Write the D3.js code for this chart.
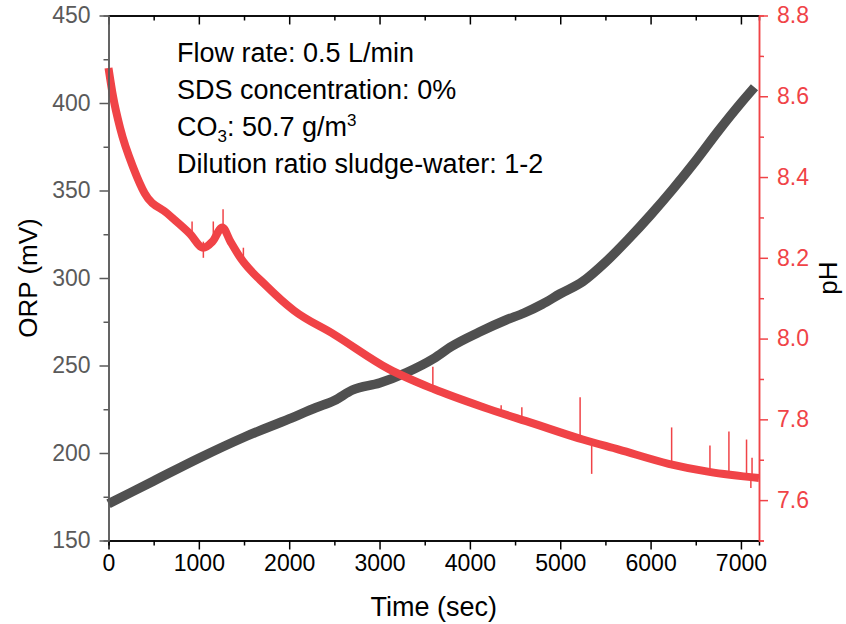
<!DOCTYPE html>
<html>
<head>
<meta charset="utf-8">
<script src="https://cdn.jsdelivr.net/npm/d3@7"></script>
<style>
  body { margin: 0; background: #fff; }
  svg { display: block; font-family: "Liberation Sans", Arial, sans-serif; }
</style>
</head>
<body>
<div class="chart"></div>
<script>
// ORP readings (mV) over time (sec)
const ORP_TIME = [0, 500, 1000, 1500, 2000, 2300, 2500, 2700, 3000, 3300, 3600, 3800, 4100, 4400, 4600, 4800, 5000, 5250, 5500, 5750, 6000, 6250, 6500, 6750, 7000, 7150];
const ORP_VALUE = [171, 184, 197, 209, 219.5, 226, 230, 236, 240, 246, 254, 261, 269, 276, 280, 285, 291, 298, 309, 322, 336, 351, 367, 384, 400, 409];

// pH readings over time (sec)
const PH_TIME = [0, 50, 130, 280, 400, 650, 900, 1050, 1150, 1260, 1350, 1460, 1750, 2050, 2500, 3100, 3600, 4150, 4700, 5250, 5650, 6200, 6650, 7200];
const PH_VALUE = [8.67, 8.6, 8.52, 8.42, 8.36, 8.31, 8.26, 8.225, 8.24, 8.275, 8.24, 8.2, 8.13, 8.07, 8.01, 7.925, 7.875, 7.83, 7.79, 7.75, 7.725, 7.69, 7.67, 7.655];

// short pH spikes: time, value on the curve, tip value
const SPIKE_TIME = [925, 1050, 1160, 1268, 1493, 3590, 4346, 4575, 5220, 5348, 6233, 6657, 6867, 7062, 7123, 7110];
const SPIKE_BASE = [8.265, 8.24, 8.25, 8.27, 8.2, 7.875, 7.815, 7.8, 7.76, 7.745, 7.69, 7.67, 7.665, 7.66, 7.66, 7.655];
const SPIKE_TIP = [8.29, 8.2, 8.29, 8.32, 8.225, 7.93, 7.835, 7.83, 7.855, 7.665, 7.78, 7.735, 7.77, 7.75, 7.705, 7.63];

const TIME_TICKS = [0, 1000, 2000, 3000, 4000, 5000, 6000, 7000];
const ORP_TICKS = [150, 200, 250, 300, 350, 400, 450];
const PH_TICKS = [7.6, 7.8, 8.0, 8.2, 8.4, 8.6, 8.8];

const WIDTH = 846;
const HEIGHT = 624;
const LEFT = 108.5, RIGHT = 759, TOP = 15.5, BOTTOM = 540.5;
const GREY = "#505050";
const RED = "#f04347";
const AXIS_GREY = "#5a5a5a";
const TICK_FONT = 23;

const svg = d3.select(".chart").append("svg")
  .attr("width", WIDTH)
  .attr("height", HEIGHT);

const x = d3.scaleLinear().domain([0, 7200]).range([LEFT, RIGHT]);
const yOrp = d3.scaleLinear().domain([150, 450]).range([BOTTOM, TOP]);
const yPh = d3.scaleLinear().domain([7.5, 8.8]).range([BOTTOM, TOP]);

// lines
const orpLine = d3.line()
  .x(d => x(d[0]))
  .y(d => yOrp(d[1]))
  .curve(d3.curveMonotoneX);

svg.append("path")
  .datum(ORP_TIME.map((t, i) => [t, ORP_VALUE[i]]))
  .attr("d", orpLine)
  .attr("fill", "none")
  .attr("stroke", GREY)
  .attr("stroke-width", 9.5);

const phLine = d3.line()
  .x(d => x(d[0]))
  .y(d => yPh(d[1]))
  .curve(d3.curveMonotoneX);

svg.append("path")
  .datum(PH_TIME.map((t, i) => [t, PH_VALUE[i]]))
  .attr("d", phLine)
  .attr("fill", "none")
  .attr("stroke", RED)
  .attr("stroke-width", 8);

svg.append("g")
  .selectAll("line")
  .data(SPIKE_TIME)
  .join("line")
  .attr("x1", d => x(d))
  .attr("x2", d => x(d))
  .attr("y1", (d, i) => yPh(SPIKE_BASE[i]))
  .attr("y2", (d, i) => yPh(SPIKE_TIP[i]))
  .attr("stroke", RED)
  .attr("stroke-width", 1.5);

// axes
function styleAxis(g, color) {
  g.selectAll(".domain").attr("stroke", color).attr("stroke-width", 1.5);
  g.selectAll(".tick line").attr("stroke", color).attr("stroke-width", 1.5);
  g.selectAll(".tick text")
    .attr("fill", color)
    .attr("font-size", TICK_FONT)
    .attr("font-family", "Liberation Sans, Arial, sans-serif");
}

const minorTime = d3.range(0, 7201, 500).filter(d => d % 1000 !== 0);

// bottom
svg.append("g")
  .attr("transform", `translate(0,${BOTTOM})`)
  .call(d3.axisBottom(x).tickValues(minorTime).tickSize(5).tickFormat(""))
  .call(g => styleAxis(g, "#000"));
svg.append("g")
  .attr("transform", `translate(0,${BOTTOM})`)
  .call(d3.axisBottom(x).tickValues(TIME_TICKS).tickSize(9).tickPadding(5).tickFormat(d3.format("d")).tickSizeOuter(0))
  .call(g => styleAxis(g, "#000"));

// top
svg.append("g")
  .attr("transform", `translate(0,${TOP})`)
  .call(d3.axisBottom(x).tickValues(minorTime).tickSize(5).tickFormat(""))
  .call(g => styleAxis(g, "#000"));
svg.append("g")
  .attr("transform", `translate(0,${TOP})`)
  .call(d3.axisBottom(x).tickValues(TIME_TICKS).tickSize(9).tickFormat("").tickSizeOuter(0))
  .call(g => styleAxis(g, "#000"));

// left
svg.append("g")
  .attr("transform", `translate(${LEFT},0)`)
  .call(d3.axisLeft(yOrp).tickValues(d3.range(175, 450, 50)).tickSize(5).tickFormat(""))
  .call(g => styleAxis(g, AXIS_GREY));
svg.append("g")
  .attr("transform", `translate(${LEFT},0)`)
  .call(d3.axisLeft(yOrp).tickValues(ORP_TICKS).tickSize(9).tickPadding(9).tickSizeOuter(0))
  .call(g => styleAxis(g, AXIS_GREY));

// right
svg.append("g")
  .attr("transform", `translate(${RIGHT},0)`)
  .call(d3.axisRight(yPh).tickValues([7.5, 7.7, 7.9, 8.1, 8.3, 8.5, 8.7]).tickSize(5).tickFormat(""))
  .call(g => styleAxis(g, RED));
svg.append("g")
  .attr("transform", `translate(${RIGHT},0)`)
  .call(d3.axisRight(yPh).tickValues(PH_TICKS).tickSize(9).tickPadding(9).tickFormat(d3.format(".1f")).tickSizeOuter(0))
  .call(g => styleAxis(g, RED));

// axis titles
svg.append("text")
  .attr("x", (LEFT + RIGHT) / 2)
  .attr("y", 616)
  .attr("text-anchor", "middle")
  .attr("font-size", 27)
  .text("Time (sec)");

svg.append("text")
  .attr("transform", `translate(37,${(TOP + BOTTOM) / 2}) rotate(-90)`)
  .attr("text-anchor", "middle")
  .attr("font-size", 26)
  .text("ORP (mV)");

svg.append("text")
  .attr("transform", `translate(837,${(TOP + BOTTOM) / 2}) rotate(-90)`)
  .attr("text-anchor", "middle")
  .attr("font-size", 26)
  .text("pH");

// annotation
const note = svg.append("g").attr("font-size", 27);
note.append("text").attr("x", 177).attr("y", 62).text("Flow rate: 0.5 L/min");
note.append("text").attr("x", 177).attr("y", 99).text("SDS concentration: 0%");
const co3 = note.append("text").attr("x", 177).attr("y", 136);
co3.append("tspan").text("CO");
co3.append("tspan").attr("font-size", 17).attr("dy", 6).text("3");
co3.append("tspan").attr("dy", -6).text(": 50.7 g/m");
co3.append("tspan").attr("font-size", 17).attr("dy", -10).text("3");
note.append("text").attr("x", 177).attr("y", 173).text("Dilution ratio sludge-water: 1-2");
</script>
</body>
</html>
